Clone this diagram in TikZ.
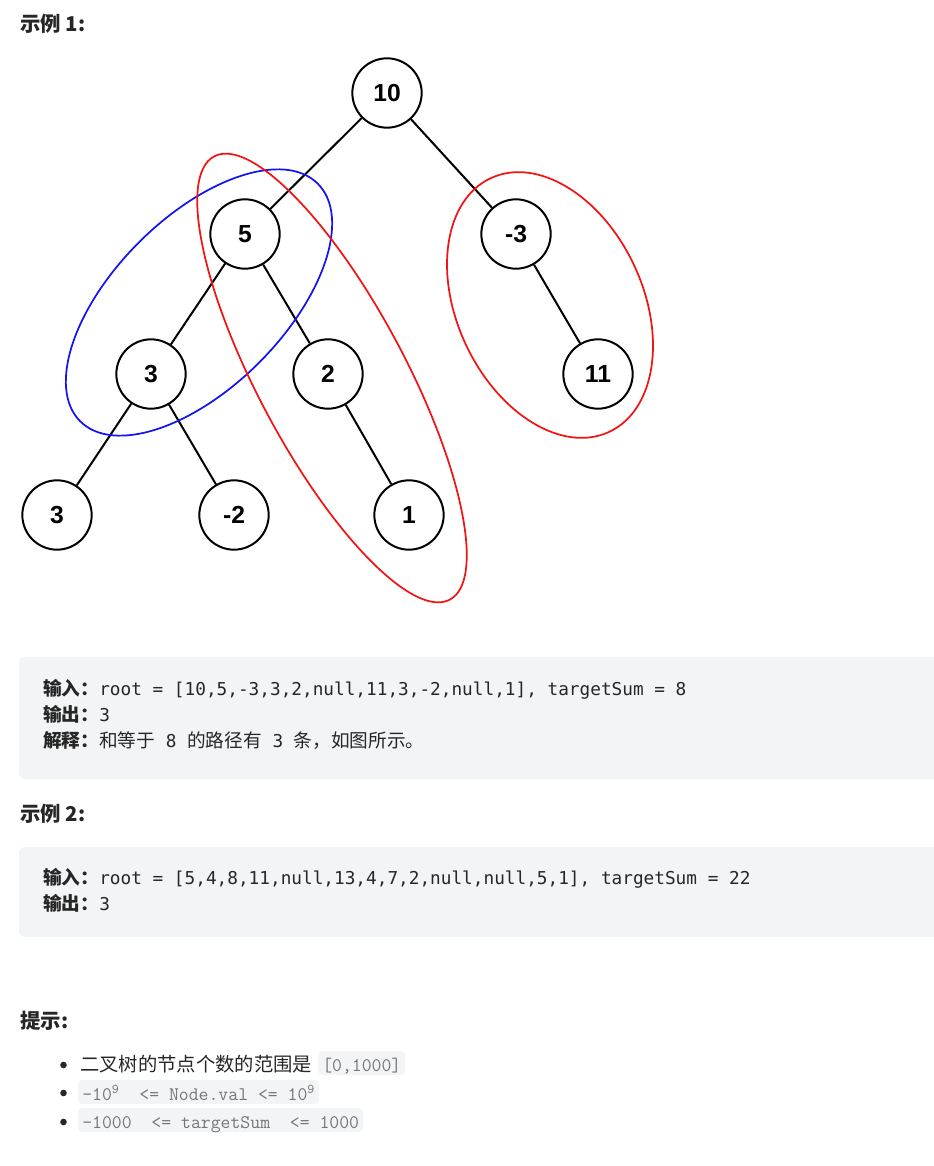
\documentclass[tikz,border=0pt]{standalone}
\usepackage{fontspec}
\setmainfont{Liberation Sans}
\newfontfamily\cjk{Noto Sans CJK SC}
\newfontfamily\codefont{DejaVu Sans Mono}
\definecolor{codebg}{HTML}{F3F4F5}
\definecolor{txt}{HTML}{262626}
\definecolor{inltxt}{HTML}{767676}
\definecolor{ringred}{HTML}{F21414}
\definecolor{ringblue}{HTML}{1414F0}
\tikzset{
  tn/.style={circle, draw, line width=1.5pt, fill=white, minimum size=52pt, inner sep=0pt,
    font=\fontsize{18.5}{20}\selectfont\bfseries},
  edge/.style={line width=1.5pt},
  ring/.style={line width=1.3pt},
  head/.style={anchor=base west, inner sep=0pt, text=txt, font=\cjk\bfseries\fontsize{15.3}{17}\selectfont},
  codeline/.style={anchor=base west, inner sep=0pt, text=txt, font=\codefont\fontsize{13.3}{15}\selectfont},
  itemtxt/.style={anchor=base west, inner sep=0pt, text=txt, font=\cjk\fontsize{14.5}{16}\selectfont},
  inl/.style={anchor=base west, fill=codebg, rounded corners=3pt, inner xsep=3pt, inner ysep=0pt,
    text height=15pt, text depth=3pt, text=inltxt, font=\ttfamily\fontsize{14.4}{16}\selectfont},
  codebox/.style={fill=codebg, rounded corners=4pt}
}
\newcommand*\cjklabel[1]{{\cjk\bfseries\fontsize{14}{16}\selectfont #1}}
\newcommand*\cjkplain[1]{{\cjk\fontsize{14}{16}\selectfont #1}}

\begin{document}
\begin{tikzpicture}[x=0.75pt, y=-0.75pt]
        \useasboundingbox (0,0) rectangle (934,1166);

        \node[head] (ex1) at (20,32) {示例 1:};

        \node[tn] (n10) at (387,93) {10};
        \node[tn] (n5) at (245,234) {5};
        \node[tn] (nm3) at (516,234) {-3};
        \node[tn] (n3) at (151,374) {3};
        \node[tn] (n2) at (328,374) {2};
        \node[tn] (n11) at (598,374) {11};
        \node[tn] (n3b) at (57,515) {3};
        \node[tn] (nm2) at (234,515) {-2};
        \node[tn] (n1) at (409,515) {1};

        \draw[edge] (n10) -- (n5);
        \draw[edge] (n10) -- (nm3);
        \draw[edge] (n5) -- (n3);
        \draw[edge] (n5) -- (n2);
        \draw[edge] (nm3) -- (n11);
        \draw[edge] (n3) -- (n3b);
        \draw[edge] (n3) -- (nm2);
        \draw[edge] (n2) -- (n1);

        \draw[ring, ringblue] (199,302.5) ellipse [x radius=168, y radius=85, rotate=45];
        \draw[ring, ringred] (332,378) ellipse [x radius=251, y radius=74, rotate=-62];
        \draw[ring, ringred] (550,305) ellipse [x radius=140, y radius=93, rotate=-65];

        \fill[codebox] (19,657) rectangle (950,779);
        \node[codeline] (in1) at (43,695) {\cjklabel{输入：}root = [10,5,-3,3,2,null,11,3,-2,null,1], targetSum = 8};
        \node[codeline] (out1) at (43,721) {\cjklabel{输出：}3};
        \node[codeline] (why1) at (43,747) {\cjklabel{解释：}\cjkplain{和等于} 8 \cjkplain{的路径有} 3 \cjkplain{条，如图所示。}};

        \node[head] (ex2) at (20,821) {示例 2:};
        \fill[codebox] (19,847) rectangle (950,937);
        \node[codeline] (in2) at (43,884) {\cjklabel{输入：}root = [5,4,8,11,null,13,4,7,2,null,null,5,1], targetSum = 22};
        \node[codeline] (out2) at (43,910) {\cjklabel{输出：}3};

        \node[head] (tip) at (20,1028) {提示:};

        \fill[txt] (63.5,1065) circle (3.3);
        \fill[txt] (63.5,1093) circle (3.3);
        \fill[txt] (63.5,1122) circle (3.3);
        \node[itemtxt] (it1) at (80,1071) {二叉树的节点个数的范围是};
        \node[inl] (c1) at (318,1071) {[0,1000]};
        \node[inl] (c2) at (78,1100) {-10\textsuperscript{9}~~<= Node.val <= 10\textsuperscript{9}};
        \node[inl] (c3) at (78,1128) {-1000~~<= targetSum~~<= 1000};
    \end{tikzpicture}
\end{document}
